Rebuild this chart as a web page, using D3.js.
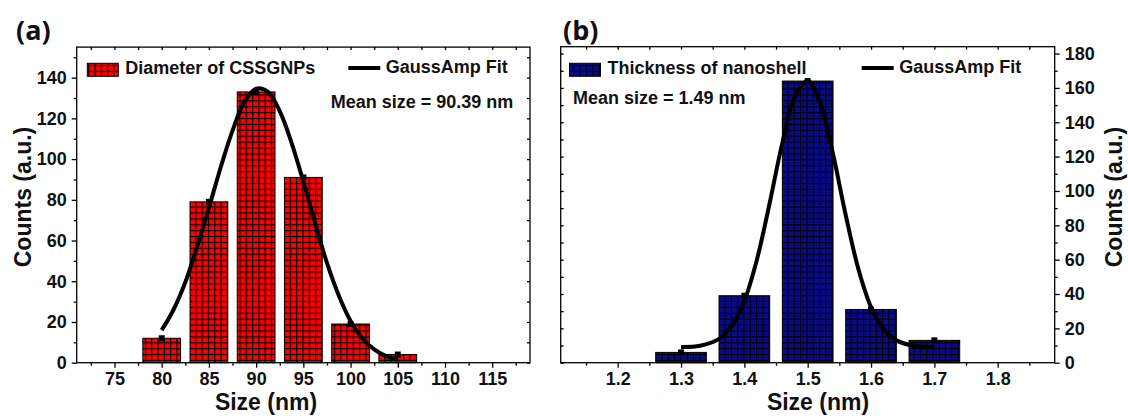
<!DOCTYPE html>
<html>
<head>
<meta charset="utf-8">
<script src="https://d3js.org/d3.v7.min.js"></script>
<style>
  body { margin: 0; background: #fff; }
  svg { display: block; }
  text { font-family: "Liberation Sans", Arial, sans-serif; font-weight: bold; fill: #111; }
</style>
</head>
<body>
<script>
// panel (a) : diameter histogram
const sizesA = [80, 85, 90, 95, 100, 105];
const countsA = [12, 79, 133, 91, 19, 4];
const fitXA = [80, 81.25, 82.5, 83.75, 85, 86.25, 87.5, 88.75, 90, 91.25, 92.5,
  93.75, 95, 96.25, 97.5, 98.75, 100, 101.25, 102.5, 103.75, 105];
const fitYA = [16, 26, 39.5, 57, 76, 96, 114, 128, 134.6, 133, 123.5,
  108, 89, 68.5, 49, 33, 20.5, 12, 6.5, 3.2, 1.4];
const xTicksA = [75, 80, 85, 90, 95, 100, 105, 110, 115];
const yTicksA = [0, 20, 40, 60, 80, 100, 120, 140];

// panel (b) : shell thickness histogram
const sizesB = [1.3, 1.4, 1.5, 1.6, 1.7];
const countsB = [6, 39, 164, 31, 13];
const fitXB = [1.3, 1.33, 1.36, 1.38, 1.4, 1.42, 1.44, 1.46, 1.48, 1.5, 1.52,
  1.54, 1.56, 1.58, 1.6, 1.62, 1.64, 1.67, 1.7];
const fitYB = [9.2, 9.9, 13.9, 21.3, 36, 60.3, 93, 128, 155, 164, 151,
  121.5, 86, 54.6, 32.4, 19.4, 13, 9.7, 9.1];
const xTicksB = [1.2, 1.3, 1.4, 1.5, 1.6, 1.7, 1.8];
const yTicksB = [0, 20, 40, 60, 80, 100, 120, 140, 160, 180];

let width = 1128;
let height = 416;
let svg = d3.select("body").append("svg")
  .attr("width", width)
  .attr("height", height);

let defs = svg.append("defs");

function makeHatch(id, fill) {
  let p = defs.append("pattern")
    .attr("id", id)
    .attr("patternUnits", "userSpaceOnUse")
    .attr("width", 6.3)
    .attr("height", 5.9);
  p.append("rect").attr("width", 6.3).attr("height", 5.9).attr("fill", fill);
  p.append("rect").attr("width", 6.3).attr("height", 1.1).attr("fill", "#000");
  p.append("rect").attr("width", 1.1).attr("height", 5.9).attr("fill", "#000");
}
makeHatch("hatchRed", "#ff0000");
makeHatch("hatchBlue", "#0a0a8e");

let axisStroke = 1.3;
let tickFont = "18px";

function styleAxis(g) {
  g.select(".domain").remove();
  g.selectAll("line").attr("stroke", "#000").attr("stroke-width", axisStroke);
  g.selectAll("text").style("font-size", tickFont).attr("fill", "#111");
}

function drawPanel(cfg) {
  let x = cfg.x, y = cfg.y;
  let [x0, x1] = x.range();
  let [y0, y1] = y.range();
  let g = svg.append("g");

  // bars
  g.selectAll(".bar")
    .data(cfg.sizes.map((s, i) => ({ s: s, c: cfg.counts[i] })))
    .enter()
    .append("rect")
    .attr("x", d => x(d.s - cfg.barHalf))
    .attr("width", d => x(d.s + cfg.barHalf) - x(d.s - cfg.barHalf))
    .attr("y", d => y(d.c))
    .attr("height", d => y(0) - y(d.c))
    .attr("fill", "url(#" + cfg.hatch + ")")
    .attr("stroke", "#000")
    .attr("stroke-width", 1);

  // fit curve
  let line = d3.line()
    .x((d, i) => x(cfg.fitX[i]))
    .y(d => y(d))
    .curve(d3.curveCatmullRom);
  g.append("path")
    .attr("d", line(cfg.fitY))
    .attr("fill", "none")
    .attr("stroke", "#000")
    .attr("stroke-width", 4);

  // data points
  g.selectAll(".pt")
    .data(cfg.sizes.map((s, i) => ({ s: s, c: cfg.counts[i] })))
    .enter()
    .append("rect")
    .attr("x", d => x(d.s) - 3)
    .attr("y", d => y(d.c) - 3)
    .attr("width", 6)
    .attr("height", 6)
    .attr("fill", "#000");

  // frame
  g.append("rect")
    .attr("x", x0)
    .attr("y", y1)
    .attr("width", x1 - x0)
    .attr("height", y0 - y1)
    .attr("fill", "none")
    .attr("stroke", "#000")
    .attr("stroke-width", axisStroke);

  // bottom axis, major + minor
  g.append("g")
    .attr("transform", "translate(0," + y0 + ")")
    .call(d3.axisBottom(x).tickValues(cfg.xTicks).tickSize(5).tickPadding(5)
      .tickFormat(cfg.xFormat))
    .call(styleAxis);
  g.append("g")
    .attr("transform", "translate(0," + y0 + ")")
    .call(d3.axisBottom(x).tickValues(cfg.xMinor).tickSize(3).tickFormat(""))
    .call(styleAxis);
  // top, inward
  g.append("g")
    .attr("transform", "translate(0," + y1 + ")")
    .call(d3.axisTop(x).tickValues(cfg.xTicks.concat(cfg.xMinor)).tickSize(-3).tickFormat(""))
    .call(styleAxis);

  // labelled y axis outside, plain one inward on the other side
  let yl = cfg.yRight ? d3.axisRight(y) : d3.axisLeft(y);
  let yo = cfg.yRight ? d3.axisLeft(y) : d3.axisRight(y);
  let yPos = cfg.yRight ? x1 : x0;
  let oPos = cfg.yRight ? x0 : x1;
  g.append("g")
    .attr("transform", "translate(" + yPos + ",0)")
    .call(yl.tickValues(cfg.yTicks).tickSize(5).tickPadding(5))
    .call(styleAxis);
  g.append("g")
    .attr("transform", "translate(" + yPos + ",0)")
    .call((cfg.yRight ? d3.axisRight(y) : d3.axisLeft(y))
      .tickValues(cfg.yMinor).tickSize(3).tickFormat(""))
    .call(styleAxis);
  g.append("g")
    .attr("transform", "translate(" + oPos + ",0)")
    .call(yo.tickValues(cfg.yTicks.concat(cfg.yMinor)).tickSize(-3).tickFormat(""))
    .call(styleAxis);

  // titles
  g.append("text")
    .attr("x", cfg.xTitleX)
    .attr("y", 410)
    .attr("text-anchor", "middle")
    .style("font-size", "23px")
    .text("Size (nm)");
  g.append("text")
    .attr("transform", "translate(" + cfg.yTitleX + ",197) rotate(-90)")
    .attr("text-anchor", "middle")
    .attr("dy", "0.35em")
    .style("font-size", "23px")
    .text("Counts (a.u.)");
  g.append("text")
    .attr("x", cfg.tagX)
    .attr("y", 40)
    .style("font-family", "'Open Sans', Lato, sans-serif")
    .style("font-weight", "700")
    .style("font-size", "27px")
    .text(cfg.tag);

  // legend
  let lg = cfg.legend;
  g.append("rect")
    .attr("x", lg.patchX)
    .attr("y", 63.3)
    .attr("width", 31)
    .attr("height", 13)
    .attr("fill", "url(#" + cfg.hatch + ")")
    .attr("stroke", "#000")
    .attr("stroke-width", 1);
  g.append("text")
    .attr("x", lg.patchX + 38)
    .attr("y", 74)
    .style("font-size", "18px")
    .text(lg.label);
  g.append("line")
    .attr("x1", lg.lineX)
    .attr("x2", lg.lineX + 32)
    .attr("y1", 68)
    .attr("y2", 68)
    .attr("stroke", "#000")
    .attr("stroke-width", 4);
  g.append("text")
    .attr("x", lg.lineX + 37.5)
    .attr("y", 73)
    .style("font-size", "18px")
    .text("GaussAmp Fit");
  g.append("text")
    .attr("x", lg.meanX)
    .attr("y", lg.meanY)
    .style("font-size", "18px")
    .text(lg.mean);
}

drawPanel({
  x: d3.scaleLinear().domain([71, 119]).range([76.7, 530]),
  y: d3.scaleLinear().domain([0, 155]).range([362.7, 47.1]),
  sizes: sizesA,
  counts: countsA,
  barHalf: 2,
  fitX: fitXA,
  fitY: fitYA,
  hatch: "hatchRed",
  xTicks: xTicksA,
  xMinor: d3.range(72.5, 119, 5),
  xFormat: d3.format("d"),
  yTicks: yTicksA,
  yMinor: d3.range(10, 155, 20),
  yRight: false,
  xTitleX: 266,
  yTitleX: 23,
  tag: "(a)",
  tagX: 16,
  legend: { patchX: 87.3, label: "Diameter of CSSGNPs", lineX: 348.3,
    mean: "Mean size = 90.39 nm", meanX: 330.7, meanY: 108.3 }
});

drawPanel({
  x: d3.scaleLinear().domain([1.11, 1.89]).range([560.7, 1054.7]),
  y: d3.scaleLinear().domain([0, 184]).range([362.7, 46.7]),
  sizes: sizesB,
  counts: countsB,
  barHalf: 0.04,
  fitX: fitXB,
  fitY: fitYB,
  hatch: "hatchBlue",
  xTicks: xTicksB,
  xMinor: d3.range(1.15, 1.89, 0.1),
  xFormat: d3.format(".1f"),
  yTicks: yTicksB,
  yMinor: d3.range(10, 184, 20),
  yRight: true,
  xTitleX: 818,
  yTitleX: 1114,
  tag: "(b)",
  tagX: 563,
  legend: { patchX: 569.5, label: "Thickness of nanoshell", lineX: 861.7,
    mean: "Mean size = 1.49 nm", meanX: 573, meanY: 104 }
});
</script>
</body>
</html>
